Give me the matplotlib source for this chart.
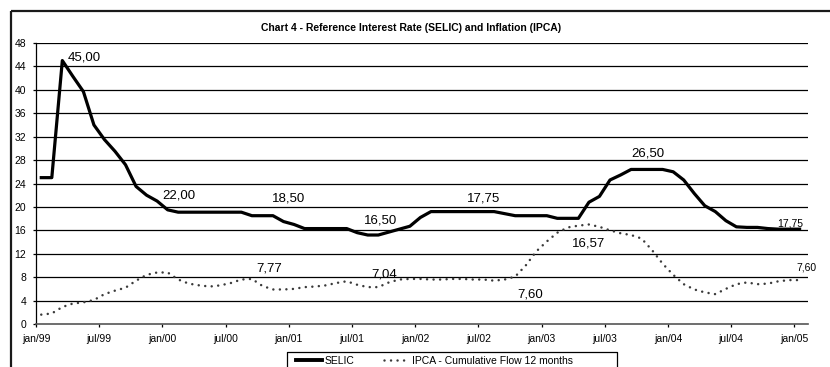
import matplotlib
matplotlib.use("Agg")
import matplotlib.pyplot as plt
from matplotlib.lines import Line2D

plt.rcParams['font.family'] = ['Liberation Sans', 'DejaVu Sans']

# monthly data, jan/99 .. jan/05
tick_labels = ['jan/99', 'jul/99', 'jan/00', 'jul/00', 'jan/01', 'jul/01', 'jan/02',
               'jul/02', 'jan/03', 'jul/03', 'jan/04', 'jul/04', 'jan/05']

selic = [25.0, 25.0, 45.0, 42.3, 39.7, 34.0, 31.5, 29.5, 27.2, 23.5, 22.0, 21.0,
         19.5, 19.1, 19.1, 19.1, 19.1, 19.1, 19.1, 19.1, 18.5, 18.5, 18.5, 17.5,
         17.0, 16.3, 16.3, 16.3, 16.3, 16.3, 15.6, 15.2, 15.2, 15.7, 16.2, 16.7,
         18.2, 19.2, 19.2, 19.2, 19.2, 19.2, 19.2, 19.2, 18.85, 18.5, 18.5, 18.5,
         18.5, 18.05, 18.05, 18.05, 20.8, 21.8, 24.6, 25.45, 26.4, 26.4, 26.4, 26.4,
         26.0, 24.6, 22.3, 20.2, 19.2, 17.65, 16.6, 16.5, 16.5, 16.3, 16.2, 16.2,
         16.2]

ipca = [1.6, 1.8, 2.9, 3.5, 3.7, 4.1, 5.1, 5.7, 6.2, 7.4, 8.4, 8.8,
        8.8, 7.6, 6.9, 6.6, 6.4, 6.6, 7.0, 7.6, 7.7, 6.5, 5.9, 5.9,
        6.0, 6.3, 6.4, 6.6, 7.0, 7.3, 6.7, 6.3, 6.3, 7.1, 7.6, 7.7,
        7.7, 7.6, 7.6, 7.7, 7.7, 7.6, 7.6, 7.4, 7.6, 8.1, 10.0, 12.4,
        14.1, 15.6, 16.5, 16.8, 17.0, 16.6, 16.0, 15.5, 15.2, 14.6, 12.6, 10.3,
        8.4, 6.8, 5.9, 5.4, 5.1, 6.0, 6.8, 7.1, 6.8, 6.9, 7.3, 7.5,
        7.5]

# data labels as printed on the chart: text, x (month index), y
label_text = ['45,00', '22,00', '18,50', '16,50', '7,77', '7,04', '17,75', '7,60',
              '16,57', '26,50']
label_x = [4.06, 13.1, 23.5, 32.2, 21.6, 32.6, 41.95, 46.4, 52.0, 57.6]
label_y = [45.6, 22.0, 21.5, 17.6, 9.4, 8.4, 21.5, 5.1, 13.7, 29.2]
end_text = ['17,75', '7,60']
end_x = [71.1, 72.7]
end_y = [17.1, 9.6]

W, H = 830, 367
fig = plt.figure(figsize=(W / 100, H / 100), dpi=100)
fig.patch.set_facecolor('white')
fig.patch.set_edgecolor('white')
fig.patch.set_linewidth(0)


def fig_line(xs, ys, **kw):
    # xs, ys in pixels from the top-left corner
    fig.add_artist(Line2D([x / W for x in xs], [1 - y / H for y in ys],
                          transform=fig.transFigure, solid_capstyle='butt', **kw))


# outer chart frame: only the top and left edges fall inside the picture
fig_line([11, 11], [H, 11], color='#1a1a1a', linewidth=1.6)
fig_line([11, W], [11, 11], color='#1a1a1a', linewidth=1.6)

ax = fig.add_axes([36 / W, 1 - 324 / H, 772 / W, 281 / H])
months = list(range(len(selic)))

dotted = (0, (0.01, 2.6))
ax.plot(months, selic, color='black', linewidth=2.3, solid_joinstyle='round')
ax.plot(months, ipca, color='#3a3a3a', linewidth=1.8,
        linestyle=dotted, dash_capstyle='round')

ax.set_xlim(-0.5, 72.8)
ax.set_ylim(0, 48)
ax.set_yticks(range(0, 49, 4))
ax.set_xticks([-0.5 + 6 * k for k in range(len(tick_labels))])
ax.set_xticklabels(tick_labels)

for v in range(4, 49, 4):
    ax.axhline(v, color='black', linewidth=0.9, zorder=0)

for s in ['top', 'right']:
    ax.spines[s].set_visible(False)
ax.spines['left'].set_color('black')
ax.spines['left'].set_linewidth(0.9)
ax.spines['bottom'].set_color('#555555')
ax.spines['bottom'].set_linewidth(1.2)
ax.tick_params(axis='both', direction='out', length=2.2, width=0.9, pad=5.0,
               labelsize=7.5, colors='black')

for t, x, y in zip(label_text, label_x, label_y):
    ax.text(x, y, t, fontsize=9.5, ha='center', va='center', color='black')
for t, x, y in zip(end_text, end_x, end_y):
    ax.text(x, y, t, fontsize=7.5, ha='center', va='center', color='black', clip_on=False)

fig.text(411.5 / W, 1 - 28 / H,
         'Chart 4 - Reference Interest Rate (SELIC) and Inflation (IPCA)',
         ha='center', va='center', fontsize=7.5, fontweight='bold')

# legend box, cut by the bottom edge like the original
fig_line([287, 287, 617, 617], [H, 352, 352, H], color='black', linewidth=0.9)
handles = [Line2D([], [], color='black', linewidth=2.8),
           Line2D([], [], color='#3a3a3a', linewidth=1.8,
                  linestyle=dotted, dash_capstyle='round')]
fig.legend(handles, ['SELIC', 'IPCA - Cumulative Flow 12 months'],
           loc='center left', bbox_to_anchor=(296 / W, 1 - 361 / H), ncol=2,
           frameon=False, fontsize=7.5, handlelength=2.5, handletextpad=0.2,
           columnspacing=2.9, borderpad=0, borderaxespad=0)

fig.savefig('out.png', dpi=100)
